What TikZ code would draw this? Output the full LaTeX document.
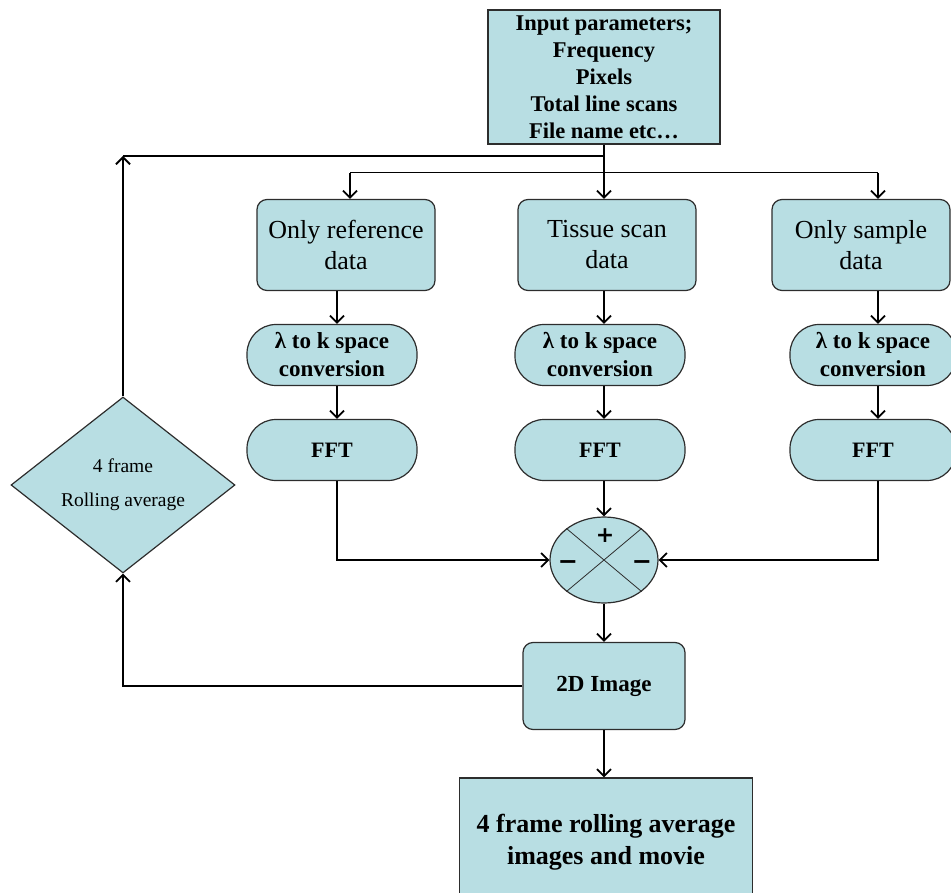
\documentclass[tikz,border=0pt]{standalone}
\usepackage{fontspec}
\setmainfont{Liberation Serif}
\newfontfamily\signfont{DejaVu Sans}
\usetikzlibrary{arrows.meta,shapes.geometric,calc}
\definecolor{boxfill}{RGB}{184,222,227}
\definecolor{boxline}{RGB}{45,45,45}
\begin{document}
\begin{tikzpicture}[x=1pt,y=-1pt,
  base/.style={draw=boxline,fill=boxfill,line width=1.2pt,inner sep=0pt,align=center},
  sqbox/.style={base,rectangle},
  rbox/.style={base,rectangle,rounded corners=10pt,minimum width=178pt,minimum height=91pt,font=\fontsize{26}{31}\selectfont},
  pill/.style={base,rectangle,rounded corners=29pt,minimum width=170pt,minimum height=61pt,font=\bfseries\fontsize{23}{28}\selectfont},
  arr/.style={line width=2.2pt,-{Straight Barb[length=7pt,width=14pt,line width=1.8pt]}},
  ln/.style={line width=2.2pt},
  sign/.style={font=\signfont\bfseries\fontsize{22}{22}\selectfont,inner sep=0pt},
]
\useasboundingbox (0,0) rectangle (951,893);
\clip (0,0) rectangle (951,893);

% nodes
\node[sqbox,minimum width=232pt,minimum height=134pt,font=\bfseries\fontsize{22.5}{27}\selectfont] (inp) at (604,77)
  {Input parameters;\\Frequency\\Pixels\\Total line scans\\File name etc…};

\node[rbox] (ref) at (346,245) {Only reference\\data};
\node[rbox] (tis) at (607,245) {Tissue scan\\data};
\node[rbox] (sam) at (861,245) {Only sample\\data};

\node[pill] (lam1) at (332,355) {λ to k space\\conversion};
\node[pill] (lam2) at (600,355) {λ to k space\\conversion};
\node[pill,minimum width=166pt] (lam3) at (873,355) {λ to k space\\conversion};

\node[pill,font=\bfseries\fontsize{22}{28}\selectfont] (fft1) at (332,450) {FFT};
\node[pill,font=\bfseries\fontsize{22}{28}\selectfont] (fft2) at (600,450) {FFT};
\node[pill,font=\bfseries\fontsize{22}{28}\selectfont,minimum width=166pt] (fft3) at (873,450) {FFT};

\node[base,ellipse,minimum width=108pt,minimum height=86pt] (sum) at (604,560) {};
\draw[boxline,line width=0.8pt] (sum.140) -- (sum.-40);
\draw[boxline,line width=0.8pt] (sum.40) -- (sum.-140);
\node[sign] (plus) at (605,536) {+};
\node[sign,font=\signfont\bfseries\fontsize{24}{24}\selectfont] (mi1) at (568,565) {−};
\node[sign,font=\signfont\bfseries\fontsize{24}{24}\selectfont] (mi2) at (642,565) {−};

\node[base,rectangle,rounded corners=10pt,minimum width=162pt,minimum height=87pt,font=\bfseries\fontsize{23}{28}\selectfont] (img) at (604,686) {2D Image};

\node[sqbox,minimum width=293pt,minimum height=128pt,font=\bfseries\fontsize{26}{32}\selectfont] (fin) at (606,842)
  {4 frame rolling average\\images and movie};

\node[base,diamond,minimum width=224pt,minimum height=136pt,font=\fontsize{19.5}{34}\selectfont] (dia) at (123,485)
  {4 frame\\Rolling average};

% helper coordinates
\coordinate (br) at (605,173);
\coordinate (fbt) at (125,156);
\coordinate (c1) at (337,0);
\coordinate (c2) at (604,0);
\coordinate (c3) at (878,0);
\coordinate (refin) at (350,0);

% connectors
\draw[arr] (inp.south) -- (inp.south |- tis.north);
\draw[line width=1pt] (refin |- br) -- (c3 |- br);
\draw[arr] (refin |- br) -- (refin |- ref.north);
\draw[arr] (c3 |- br) -- (c3 |- sam.north);

\draw[arr] (c1 |- ref.south) -- (c1 |- lam1.north);
\draw[arr] (c1 |- lam1.south) -- (c1 |- fft1.north);
\draw[arr] (c1 |- fft1.south) |- (sum.west);

\draw[arr] (c2 |- tis.south) -- (c2 |- lam2.north);
\draw[arr] (c2 |- lam2.south) -- (c2 |- fft2.north);
\draw[arr] (c2 |- fft2.south) -- (sum.north);

\draw[arr] (c3 |- sam.south) -- (c3 |- lam3.north);
\draw[arr] (c3 |- lam3.south) -- (c3 |- fft3.north);
\draw[arr] (c3 |- fft3.south) |- (sum.east);

\draw[arr] (sum.south) -- (img.north);
\draw[arr] (img.south) -- (img.south |- fin.north);

\draw[arr] (img.west) -| (dia.south);
\draw[arr] (dia.north) -- (dia.north |- fbt);
\draw[ln] (dia.north |- fbt) -- (inp.south |- fbt);
\end{tikzpicture}
\end{document}
